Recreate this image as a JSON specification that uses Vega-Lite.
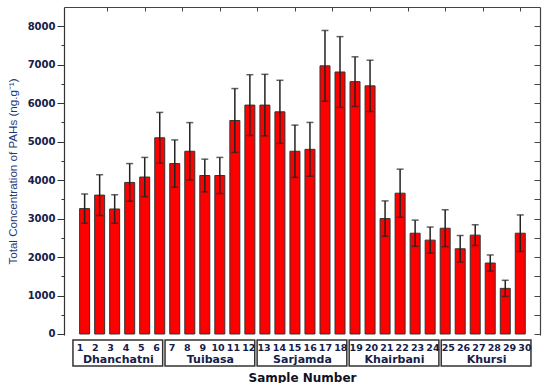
{
  "$schema": "https://vega.github.io/schema/vega-lite/v6.json",
  "padding": {"left": 7, "top": 6, "right": 9, "bottom": 0},
  "background": "white",
  "config": {"view": {"stroke": null}, "font": "DejaVu Sans"},
  "data": {"values": [
    {"sample": 1, "group": "Dhanchatni", "value": 3260, "err": 380},
    {"sample": 2, "group": "Dhanchatni", "value": 3610, "err": 530},
    {"sample": 3, "group": "Dhanchatni", "value": 3250, "err": 370},
    {"sample": 4, "group": "Dhanchatni", "value": 3940, "err": 490},
    {"sample": 5, "group": "Dhanchatni", "value": 4080, "err": 510},
    {"sample": 6, "group": "Dhanchatni", "value": 5100, "err": 660},
    {"sample": 7, "group": "Tuibasa", "value": 4430, "err": 615},
    {"sample": 8, "group": "Tuibasa", "value": 4750, "err": 745},
    {"sample": 9, "group": "Tuibasa", "value": 4120, "err": 425},
    {"sample": 10, "group": "Tuibasa", "value": 4120, "err": 470},
    {"sample": 11, "group": "Tuibasa", "value": 5550, "err": 830},
    {"sample": 12, "group": "Tuibasa", "value": 5950, "err": 790},
    {"sample": 13, "group": "Sarjamda", "value": 5950, "err": 800},
    {"sample": 14, "group": "Sarjamda", "value": 5775, "err": 820},
    {"sample": 15, "group": "Sarjamda", "value": 4750, "err": 680},
    {"sample": 16, "group": "Sarjamda", "value": 4800, "err": 700},
    {"sample": 17, "group": "Sarjamda", "value": 6970, "err": 920},
    {"sample": 18, "group": "Sarjamda", "value": 6810, "err": 920},
    {"sample": 19, "group": "Khairbani", "value": 6560, "err": 645},
    {"sample": 20, "group": "Khairbani", "value": 6450, "err": 667},
    {"sample": 21, "group": "Khairbani", "value": 3000, "err": 460},
    {"sample": 22, "group": "Khairbani", "value": 3660, "err": 625},
    {"sample": 23, "group": "Khairbani", "value": 2620, "err": 340},
    {"sample": 24, "group": "Khairbani", "value": 2440, "err": 340},
    {"sample": 25, "group": "Khursi", "value": 2750, "err": 480},
    {"sample": 26, "group": "Khursi", "value": 2215, "err": 345},
    {"sample": 27, "group": "Khursi", "value": 2570, "err": 270},
    {"sample": 28, "group": "Khursi", "value": 1845, "err": 210},
    {"sample": 29, "group": "Khursi", "value": 1186, "err": 210},
    {"sample": 30, "group": "Khursi", "value": 2620, "err": 475}
  ]},
  "spacing": 0,
  "vconcat": [
    {
      "width": 476,
      "height": 328,
      "layer": [
        {
          "mark": {"type": "bar", "size": 10, "fill": "#ff0000", "stroke": "#333333", "strokeWidth": 1},
          "encoding": {
            "x": {"field": "sample", "type": "quantitative",
              "scale": {"domain": [-0.04, 30.98], "nice": false, "zero": false},
              "axis": {"orient": "top", "values": [2.5, 5, 7.5, 10, 12.5, 15, 17.5, 20, 22.5, 25, 27.5, 30],
                "labels": false, "title": null, "grid": false, "tickSize": -4, "tickColor": "#444444",
                "domainColor": "#444444", "domainWidth": 1.2}},
            "y": {"field": "value", "type": "quantitative",
              "scale": {"domain": [-26, 8500], "nice": false, "zero": false},
              "axis": {"orient": "left", "title": "Total Concentration of PAHs (ng.g⁻¹)",
                "values": [0, 500, 1000, 1500, 2000, 2500, 3000, 3500, 4000, 4500, 5000, 5500, 6000, 6500, 7000, 7500, 8000],
                "labelExpr": "datum.value % 1000 === 0 ? format(datum.value, 'd') : ''",
                "tickSize": {"condition": {"test": "datum.value % 1000 !== 0", "value": 3}, "value": 7},
                "grid": false, "tickColor": "#333333", "domainColor": "#333333", "domainWidth": 1.2,
                "labelFont": "DejaVu Sans", "labelFontWeight": "bold", "labelFontSize": 10, "labelColor": "#14204a",
                "labelPadding": 2,
                "titleFont": "Liberation Sans", "titleFontWeight": "normal", "titleFontSize": 11.6,
                "titleColor": "#1f3a7a", "titlePadding": 9}}
          }
        },
        {
          "mark": {"type": "errorbar", "ticks": {"size": 7, "thickness": 1.5, "color": "#222222"}, "rule": {"strokeWidth": 1.5, "color": "#222222"}},
          "encoding": {
            "x": {"field": "sample", "type": "quantitative",
              "scale": {"domain": [-0.04, 30.98], "nice": false, "zero": false}, "axis": null},
            "y": {"field": "value", "type": "quantitative",
              "scale": {"domain": [-26, 8500], "nice": false, "zero": false},
              "axis": {"orient": "right", "title": null, "labels": false, "grid": false,
                "values": [0, 500, 1000, 1500, 2000, 2500, 3000, 3500, 4000, 4500, 5000, 5500, 6000, 6500, 7000, 7500, 8000],
                "tickSize": -6, "tickColor": "#444444", "domainColor": "#444444", "domainWidth": 1.2}},
            "yError": {"field": "err"}
          }
        }
      ],
      "resolve": {"axis": {"y": "independent", "x": "independent"}}
    },
    {
      "width": 476,
      "height": 26,
      "layer": [
        {
          "mark": {"type": "rect", "fill": "white", "stroke": "#333333", "strokeWidth": 1.5, "xOffset": -7, "x2Offset": 6},
          "encoding": {
            "x": {"aggregate": "min", "field": "sample", "type": "quantitative",
              "scale": {"domain": [-0.04, 30.98], "nice": false, "zero": false},
              "axis": {"title": "Sample Number", "labels": false, "ticks": false, "domain": false, "grid": false,
                "titleFont": "DejaVu Sans", "titleFontWeight": "bold", "titleFontSize": 12, "titleColor": "#111122", "titlePadding": 6}},
            "x2": {"aggregate": "max", "field": "sample"},
            "y": {"datum": 0, "type": "quantitative", "scale": {"domain": [0, 1], "nice": false}, "axis": null},
            "y2": {"datum": 1},
            "detail": {"field": "group"}
          }
        },
        {
          "mark": {"type": "text", "font": "DejaVu Sans", "fontWeight": "bold", "fontSize": 9.5, "color": "#14204a", "baseline": "middle"},
          "encoding": {
            "x": {"field": "sample", "type": "quantitative"},
            "y": {"datum": 0.7, "type": "quantitative"},
            "text": {"field": "sample"}
          }
        },
        {
          "mark": {"type": "text", "font": "DejaVu Sans", "fontWeight": "bold", "fontSize": 11, "color": "#14204a", "baseline": "middle"},
          "encoding": {
            "x": {"aggregate": "mean", "field": "sample", "type": "quantitative"},
            "y": {"datum": 0.25, "type": "quantitative"},
            "text": {"field": "group"}
          }
        }
      ]
    }
  ]
}
